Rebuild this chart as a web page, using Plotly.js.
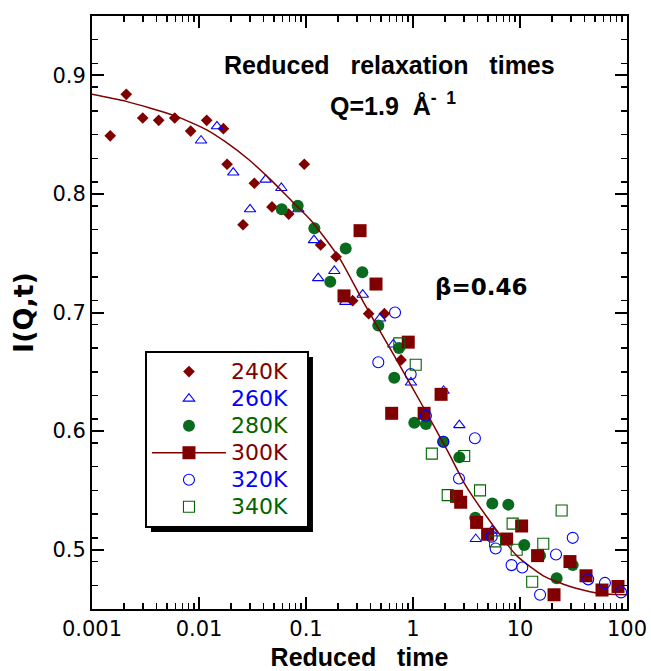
<!DOCTYPE html>
<html>
<head>
<meta charset="utf-8">
<script src="https://cdn.plot.ly/plotly-3.0.1.min.js"></script>
<style>html,body{margin:0;padding:0;background:#fff;}#chart{width:651px;height:671px;}</style>
</head>
<body>
<div id="chart"></div>
<script>
// ---- data ----
const t240 = [0.00148, 0.00209, 0.00298, 0.0042, 0.00593, 0.00836, 0.0118, 0.0169, 0.0183, 0.0258, 0.0329, 0.0481, 0.0689, 0.0964, 0.137, 0.191, 0.273, 0.385, 0.54, 0.773];
const i240 = [0.849, 0.884, 0.864, 0.862, 0.864, 0.853, 0.862, 0.855, 0.825, 0.774, 0.809, 0.789, 0.783, 0.825, 0.757, 0.747, 0.710, 0.699, 0.699, 0.660];

const t260 = [0.01045, 0.01472, 0.0209, 0.0300, 0.0420, 0.0588, 0.0848, 0.1188, 0.130, 0.184, 0.233, 0.339, 0.492, 0.655, 0.957, 1.93, 2.71, 3.86, 5.47];
const i260 = [0.845, 0.857, 0.818, 0.787, 0.812, 0.805, 0.787, 0.761, 0.729, 0.735, 0.709, 0.715, 0.695, 0.673, 0.641, 0.634, 0.605, 0.509, 0.516];

const t280 = [0.0593, 0.0836, 0.1197, 0.1686, 0.235, 0.336, 0.474, 0.668, 0.740, 1.029, 1.32, 1.92, 2.71, 3.82, 5.51, 7.78, 10.96, 15.4, 22.0, 31.1];
const i280 = [0.787, 0.790, 0.771, 0.726, 0.754, 0.734, 0.689, 0.645, 0.670, 0.607, 0.606, 0.591, 0.578, 0.527, 0.539, 0.538, 0.504, 0.495, 0.476, 0.487];

const t300 = [0.2266, 0.320, 0.451, 0.632, 0.903, 1.27, 1.83, 2.55, 2.79, 3.93, 4.98, 7.50, 10.36, 14.6, 20.8, 29.3, 41.4, 58.4, 82.4];
const i300 = [0.714, 0.769, 0.724, 0.615, 0.675, 0.615, 0.631, 0.545, 0.540, 0.523, 0.513, 0.509, 0.520, 0.495, 0.462, 0.490, 0.478, 0.466, 0.469];

const t320 = [0.474, 0.679, 0.951, 1.32, 1.92, 2.69, 3.79, 5.44, 5.92, 8.34, 10.5, 15.4, 21.7, 31.1, 43.4, 62.2, 87.9];
const i320 = [0.658, 0.700, 0.648, 0.613, 0.591, 0.560, 0.594, 0.511, 0.501, 0.487, 0.485, 0.462, 0.496, 0.510, 0.475, 0.472, 0.464];

const t340 = [0.745, 1.06, 1.50, 2.11, 3.01, 4.23, 5.84, 8.53, 9.31, 13.0, 16.5, 24.5];
const i340 = [0.674, 0.656, 0.581, 0.546, 0.579, 0.550, 0.507, 0.522, 0.500, 0.473, 0.505, 0.533];

// fitted stretched-exponential curve (beta = 0.46)
const fitT = [0.001, 0.00209, 0.00593, 0.0118, 0.0176, 0.0291, 0.048, 0.0735, 0.113, 0.208, 0.343, 0.703, 1.29, 2.14, 3.06, 4.87, 9.31, 16.5, 29.3, 56, 100];
const fitI = [0.884, 0.878, 0.866, 0.854, 0.844, 0.829, 0.811, 0.794, 0.777, 0.745, 0.709, 0.660, 0.618, 0.582, 0.555, 0.528, 0.495, 0.478, 0.469, 0.463, 0.462];

const seriesNames = ['240K', '260K', '280K', '300K', '320K', '340K'];
const xTickVals = [0.001, 0.01, 0.1, 1, 10, 100];
const xTickText = ['0.001', '0.01', '0.1', '1', '10', '100'];
const yTickVals = [0.5, 0.6, 0.7, 0.8, 0.9];
const yTickText = ['0.5', '0.6', '0.7', '0.8', '0.9'];

// ---- styling ----
const RED = '#800000', BLUE = '#0000ff', GREEN = '#006400', GREENFILL = '#0a6a1e';
const CLEAR = 'rgba(0,0,0,0)';
const nm = (s, c) => '<span style="color:' + c + ';font-size:22px">' + s + '\u00a0\u00a0</span>';

const xMinor = [];
for (let d = -3; d < 2; d++) for (let k = 2; k <= 9; k++) xMinor.push(k * Math.pow(10, d));

const hiddenLine = {color: CLEAR, width: 1};
const traces = [
  {x: t240, y: i240, name: nm(seriesNames[0], RED), mode: 'lines+markers', type: 'scatter', line: hiddenLine,
   marker: {symbol: 'diamond', size: 9, color: RED}},
  {x: t260, y: i260, name: nm(seriesNames[1], BLUE), mode: 'lines+markers', type: 'scatter', line: hiddenLine,
   marker: {symbol: 'triangle-up-open', size: 10, color: BLUE, line: {width: 1.1}}},
  {x: t280, y: i280, name: nm(seriesNames[2], GREEN), mode: 'lines+markers', type: 'scatter', line: hiddenLine,
   marker: {symbol: 'circle', size: 12, color: GREENFILL}},
  {x: [null].concat(fitT), y: [null].concat(fitI), name: nm(seriesNames[3], RED), mode: 'lines+markers', type: 'scatter',
   line: {color: RED, width: 1.5, shape: 'spline', smoothing: 0.6},
   marker: {symbol: 'square', size: 13, color: [RED].concat(fitT.map(() => CLEAR))},
   hoverinfo: 'skip'},
  {x: t300, y: i300, name: seriesNames[3], mode: 'markers', type: 'scatter', showlegend: false,
   marker: {symbol: 'square', size: 13, color: RED}},
  {x: t320, y: i320, name: nm(seriesNames[4], BLUE), mode: 'lines+markers', type: 'scatter', line: hiddenLine,
   marker: {symbol: 'circle-open', size: 11, color: BLUE, line: {width: 1.1}}},
  {x: t340, y: i340, name: nm(seriesNames[5], GREEN), mode: 'lines+markers', type: 'scatter', line: hiddenLine,
   marker: {symbol: 'square-open', size: 11, color: GREEN, line: {width: 1.1}}}
];

const axisCommon = {
  showline: true, linewidth: 2, linecolor: 'black', mirror: 'ticks',
  ticks: 'inside', ticklen: 12, tickwidth: 2, tickcolor: 'black',
  showgrid: false, zeroline: false,
  tickfont: {family: 'DejaVu Sans', size: 21, color: 'black'}
};

const layout = {
  width: 651, height: 671,
  margin: {l: 92, r: 24, t: 16, b: 62, pad: 0},
  paper_bgcolor: 'white', plot_bgcolor: 'white',
  font: {family: 'DejaVu Sans', color: 'black'},
  showlegend: true,
  xaxis: Object.assign({}, axisCommon, {
    type: 'log', range: [-3, 2], tickmode: 'array', tickvals: xTickVals, ticktext: xTickText,
    minor: {tickmode: 'array', tickvals: xMinor, ticks: 'inside', ticklen: 6, tickwidth: 1.5, tickcolor: 'black', showgrid: false},
    title: {text: 'Reduced\u00a0\u00a0\u00a0time', font: {family: 'Liberation Sans', size: 25, weight: 'bold', color: 'black'}, standoff: 16},
    automargin: false
  }),
  yaxis: Object.assign({}, axisCommon, {
    range: [0.45, 0.95], tickmode: 'array', tickvals: yTickVals, ticktext: yTickText,
    minor: {dtick: 0.02, tick0: 0.45, ticks: 'inside', ticklen: 6, tickwidth: 1.5, tickcolor: 'black', showgrid: false},
    title: {text: 'I(Q,t)', font: {family: 'DejaVu Sans', size: 27, weight: 'bold', color: 'black'}, standoff: 11},
    automargin: false
  }),
  legend: {
    x: 0.099, y: 0.4350, xanchor: 'left', yanchor: 'top',
    bgcolor: 'white', bordercolor: 'black', borderwidth: 2,
    font: {family: 'DejaVu Sans', size: 18.5, color: 'black'},
    itemwidth: 74, tracegroupgap: 0, traceorder: 'normal', itemclick: false, itemdoubleclick: false
  },
  annotations: [
    {xref: 'paper', yref: 'paper', x: 0.556, y: 0.917, xanchor: 'center', yanchor: 'middle', showarrow: false,
     text: 'Reduced\u00a0\u00a0\u00a0relaxation\u00a0\u00a0\u00a0times', font: {family: 'Liberation Sans', size: 25, weight: 'bold', color: 'black'}},
    {xref: 'paper', yref: 'paper', x: 0.5617, y: 0.8516, xanchor: 'center', yanchor: 'middle', showarrow: false,
     text: 'Q=1.9\u00a0\u00a0Å<sup>-\u00a0\u00a01</sup>', font: {family: 'Liberation Sans', size: 25, weight: 'bold', color: 'black'}},
    {xref: 'paper', yref: 'paper', x: 0.727, y: 0.543, xanchor: 'center', yanchor: 'middle', showarrow: false,
     text: 'β=0.46', font: {family: 'DejaVu Sans', size: 23, weight: 'bold', color: 'black'}}
  ],
  shapes: []
};

Plotly.newPlot('chart', traces, layout, {displayModeBar: false, staticPlot: true}).then(function (gd) {
  // drop shadow behind legend box
  const bg = gd.querySelector('.legend .bg');
  if (!bg) return;
  const r = bg.getBoundingClientRect();
  const c = gd.getBoundingClientRect();
  const fs = gd._fullLayout._size;
  const px2x = p => (p - c.left - fs.l) / fs.w;
  const px2y = p => 1 - (p - c.top - fs.t) / fs.h;
  const off = 5;
  Plotly.relayout(gd, {shapes: [{
    type: 'rect', xref: 'paper', yref: 'paper', layer: 'above',
    x0: px2x(r.left + off), x1: px2x(r.right + off),
    y0: px2y(r.bottom + off), y1: px2y(r.top + off),
    fillcolor: 'black', line: {width: 0}
  }]});
});
</script>
</body>
</html>
